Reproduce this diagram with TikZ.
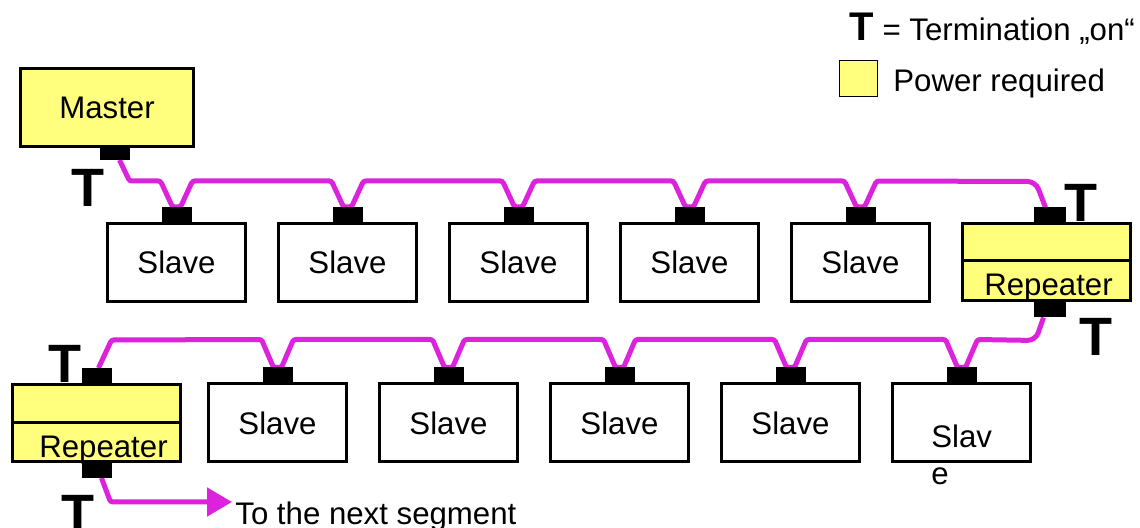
\documentclass[tikz,border=0pt]{standalone}
\usepackage{fontspec}
\setmainfont{Liberation Sans}
\usetikzlibrary{positioning, calc, backgrounds, arrows.meta}
\definecolor{power}{RGB}{255,255,125}
\definecolor{buscolor}{RGB}{221,34,221}

\begin{document}
\begin{tikzpicture}[x=0.5pt, y=-0.5pt, node distance=15pt, font=\fontsize{15.6}{18.5}\selectfont]
\tikzstyle{slave} = [rectangle, draw, line width=1.5pt, fill=white,
    minimum width=69pt, minimum height=39pt, inner sep=0pt]
\tikzstyle{master} = [slave, fill=power, minimum width=86.5pt]
\tikzstyle{repeater} = [slave, fill=power, minimum width=84pt, minimum height=38.5pt]
\tikzstyle{port} = [rectangle, fill=black, minimum width=15pt, minimum height=7.5pt,
    inner sep=0pt, outer sep=0pt]
\tikzstyle{term} = [font=\fontsize{27}{27}\selectfont\bfseries, anchor=base, inner sep=0pt]
\tikzstyle{txt} = [anchor=base west, inner sep=0pt]
\tikzstyle{line} = [draw, line width=2.5pt, buscolor, rounded corners=1.2pt]
\useasboundingbox (0,0) rectangle (1140,528);
    % Place nodes
    \node [master] (master) at (107,107.5) {Master};
    \node [slave] (s1) at (176.5,262.5) {Slave};
    \node [slave, right=of s1] (s2) {Slave};
    \node [slave, right=of s2] (s3) {Slave};
    \node [slave, right=of s3] (s4) {Slave};
    \node [slave, right=of s4] (s5) {Slave};
    \node [repeater, right=of s5] (rrep) {};
    \node [repeater] (lrep) at (96.5,423) {};
    \node [slave, right=12.5pt of lrep] (s6) {Slave};
    \node [slave, right=of s6] (s7) {Slave};
    \node [slave, right=of s7] (s8) {Slave};
    \node [slave, right=of s8] (s9) {Slave};
    \node [slave, right=of s9] (s10) {};
    \node [txt, align=left] (s10text) at (931,485) {Slav\\e};
    \node [anchor=base, inner sep=0pt] (rreptext) at ($(rrep.south)+(2,-7)$) {Repeater};
    \node [anchor=base, inner sep=0pt] (lreptext) at ($(lrep.south)+(7,-5)$) {Repeater};
    \draw [line width=1.5pt] ($(rrep.north west)!0.47!(rrep.south west)$) -- ($(rrep.north east)!0.47!(rrep.south east)$);
    \draw [line width=1.5pt] ($(lrep.north west)!0.49!(lrep.south west)$) -- ($(lrep.north east)!0.49!(lrep.south east)$);

    % Ports
    \node [port, below=0pt of master, xshift=3.75pt, minimum height=6pt] (mport) {};
    \node [port, above=0pt of s1] (p1) {};
    \node [port, above=0pt of s2] (p2) {};
    \node [port, above=0pt of s3] (p3) {};
    \node [port, above=0pt of s4] (p4) {};
    \node [port, above=0pt of s5] (p5) {};
    \node [port, above=0pt of s6] (p6) {};
    \node [port, above=0pt of s7] (p7) {};
    \node [port, above=0pt of s8] (p8) {};
    \node [port, above=0pt of s9] (p9) {};
    \node [port, above=0pt of s10] (p10) {};
    \node [port, above=0pt of rrep, xshift=1.5pt, minimum width=16pt] (rtop) {};
    \node [port, below=0pt of rrep, xshift=1.5pt, minimum width=16pt] (rbot) {};
    \node [port, above=0pt of lrep] (ltop) {};
    \node [port, below=0pt of lrep] (lbot) {};

    % Terminations
    \node [term] (tmaster) at (88,207) {T};
    \node [term] (trtop) at (1081,222) {T};
    \node [term] (trbot) at (1096,356) {T};
    \node [term] (tltop) at (65,383) {T};
    \node [term] (tlbot) at (78,533) {T};

    % Legend
    \node [txt] (legend1) at (849,41) {{\fontsize{20}{20}\selectfont\bfseries T} = Termination „on“};
    \node [rectangle, draw, line width=0.6pt, fill=power, minimum width=19pt,
        minimum height=18pt, inner sep=0pt] (legend2) at (858.5,78.5) {};
    \node [txt] (legend3) at (893,92) {Power required};

    \coordinate (next) at (232,502);
    \node [txt] (nexttext) at (235,524) {To the next segment};

\begin{scope}[on background layer]
    \fill [white] (0,0) rectangle (1140,528);
%paths
    \path [line] ($(mport.south)+(5,0)$) -- ($(mport.south)+(15,21)$)
        -- ($(p1.north)+(-16,-26)$) -- ($(p1.north)+(-4,0)$) -- ($(p1.north)+(4,0)$) -- ($(p1.north)+(16,-26)$)
        -- ($(p2.north)+(-16,-26)$) -- ($(p2.north)+(-4,0)$) -- ($(p2.north)+(4,0)$) -- ($(p2.north)+(16,-26)$)
        -- ($(p3.north)+(-16,-26)$) -- ($(p3.north)+(-4,0)$) -- ($(p3.north)+(4,0)$) -- ($(p3.north)+(16,-26)$)
        -- ($(p4.north)+(-16,-26)$) -- ($(p4.north)+(-4,0)$) -- ($(p4.north)+(4,0)$) -- ($(p4.north)+(16,-26)$)
        -- ($(p5.north)+(-16,-26)$) -- ($(p5.north)+(-4,0)$) -- ($(p5.north)+(4,0)$) -- ($(p5.north)+(16,-26)$)
        [rounded corners=4pt] -- ($(rtop.north)+(-14,-26)$) -- ($(rtop.north)+(-4,0)$);
    \path [line] ($(rbot.south)+(-6,0)$) [rounded corners=4pt] -- ($(rbot.south)+(-14,23)$)
        [rounded corners=1.2pt] -- ($(p10.north)+(16,-28)$) -- ($(p10.north)+(4,0)$) -- ($(p10.north)+(-4,0)$) -- ($(p10.north)+(-16,-28)$)
        -- ($(p9.north)+(16,-28)$) -- ($(p9.north)+(4,0)$) -- ($(p9.north)+(-4,0)$) -- ($(p9.north)+(-16,-28)$)
        -- ($(p8.north)+(16,-28)$) -- ($(p8.north)+(4,0)$) -- ($(p8.north)+(-4,0)$) -- ($(p8.north)+(-16,-28)$)
        -- ($(p7.north)+(16,-28)$) -- ($(p7.north)+(4,0)$) -- ($(p7.north)+(-4,0)$) -- ($(p7.north)+(-16,-28)$)
        -- ($(p6.north)+(16,-28)$) -- ($(p6.north)+(4,0)$) -- ($(p6.north)+(-4,0)$) -- ($(p6.north)+(-16,-28)$)
        -- ($(ltop.north)+(15,-28)$) -- ($(ltop.north)+(2,0)$);
    \path [line, -{Triangle[length=12.5pt, width=14pt]}] ($(lbot.south)+(5,0)$)
        -- ($(lbot.south)+(14,24)$) -- (next);
\end{scope}

\end{tikzpicture}
\end{document}
